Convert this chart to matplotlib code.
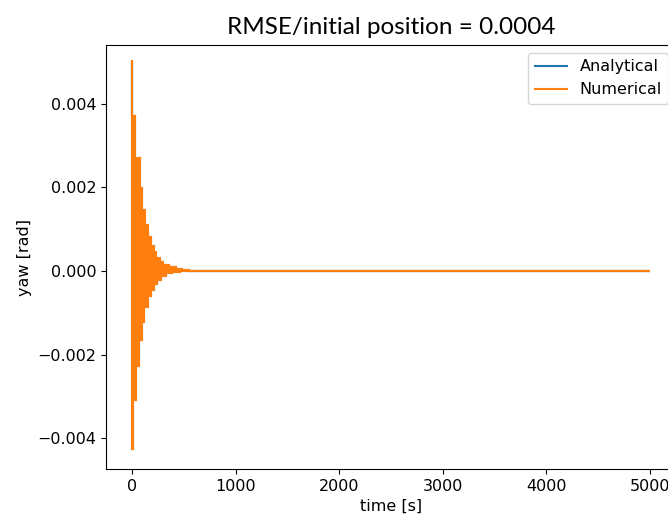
import numpy as np
import matplotlib
matplotlib.use('Agg')
import matplotlib.pyplot as plt
from matplotlib.lines import Line2D

# step envelope of the oscillating yaw signal
# edges have one more entry than the values
t_upper = [0, 3, 29, 75, 101, 126, 158, 184, 210, 236, 268, 300, 358, 421, 480, 550, 5000]
yaw_upper = [0.00506, 0.0037, 0.00271, 0.00199, 0.00147, 0.00109, 0.00082, 0.00061,
             0.00045, 0.00032, 0.00022, 0.000145, 0.00009, 0.00005, 0.00002, 0.0]
t_lower = [0, 12, 42, 68, 94, 120, 152, 184, 210, 242, 281, 326, 390, 460, 550, 5000]
yaw_lower = [-0.00427, -0.0031, -0.00227, -0.00166, -0.00122, -0.00086, -0.00061, -0.00045,
             -0.00032, -0.00021, -0.00011, -0.00005, -0.00002, -0.00001, 0.0]

title = 'RMSE/initial position = 0.0004'
fs = 11.5

fig = plt.figure(figsize=(6.68, 5.25), dpi=100)
ax = fig.add_axes([106/668, 56/525, 570/668, 424/525])

# analytical curve lies under the numerical one
ax.stairs(yaw_upper, t_upper, baseline=0, color='C0', lw=1.5)
ax.stairs(yaw_lower, t_lower, baseline=0, color='C0', lw=1.5)

ax.stairs(yaw_upper, t_upper, baseline=0, fill=True, color='C1')
ax.stairs(yaw_lower, t_lower, baseline=0, fill=True, color='C1')
ax.stairs(yaw_upper, t_upper, baseline=0, color='C1', lw=1.5)
ax.stairs(yaw_lower, t_lower, baseline=0, color='C1', lw=1.5)

ax.set_xticks([0, 1000, 2000, 3000, 4000, 5000])
ax.set_yticks([-0.004, -0.002, 0.0, 0.002, 0.004])
ax.set_xlim(-250, 5250)
ax.set_ylim(-0.00474, 0.00541)
ax.tick_params(labelsize=fs)
ax.set_xlabel('time [s]', fontsize=fs)
ax.set_ylabel('yaw [rad]', fontsize=fs)

handles = [Line2D([], [], color='C0', lw=1.5), Line2D([], [], color='C1', lw=1.5)]
ax.legend(handles, ['Analytical', 'Numerical'], loc='upper right', fontsize=fs)

fig.text(391/668, 1 - 28/525, title, ha='center', va='center', fontsize=17.5, family='Lato')

fig.savefig('out.png', dpi=100)
